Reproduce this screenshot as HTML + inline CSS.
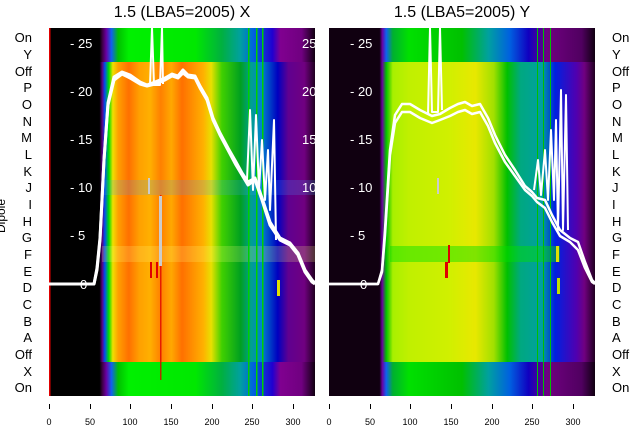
<!DOCTYPE html>
<html><head><style>
body{margin:0;background:#fff;}
svg{display:block;font-family:"Liberation Sans","DejaVu Sans",sans-serif;}
</style></head><body>
<svg width="640" height="440" viewBox="0 0 640 440">
<defs>
<linearGradient id="lo" x1="49" x2="315" gradientUnits="userSpaceOnUse">
<stop offset="0" stop-color="#000"/><stop offset="0.19" stop-color="#000"/>
<stop offset="0.2" stop-color="#3a0040"/><stop offset="0.215" stop-color="#6a00a0"/>
<stop offset="0.235" stop-color="#1060f0"/><stop offset="0.26" stop-color="#00c000"/>
<stop offset="0.3" stop-color="#00f000"/><stop offset="0.55" stop-color="#00e800"/>
<stop offset="0.65" stop-color="#00b040"/><stop offset="0.72" stop-color="#00a0a0"/>
<stop offset="0.77" stop-color="#0060e0"/><stop offset="0.84" stop-color="#2000d0"/>
<stop offset="0.87" stop-color="#800090"/><stop offset="0.95" stop-color="#700080"/>
<stop offset="1" stop-color="#100010"/></linearGradient>
<linearGradient id="lm" x1="49" x2="315" gradientUnits="userSpaceOnUse">
<stop offset="0" stop-color="#000"/><stop offset="0.19" stop-color="#000"/>
<stop offset="0.2" stop-color="#5a0080"/><stop offset="0.21" stop-color="#0050f0"/>
<stop offset="0.225" stop-color="#00e000"/><stop offset="0.24" stop-color="#f0e000"/>
<stop offset="0.26" stop-color="#ffa000"/><stop offset="0.3" stop-color="#ff7000"/>
<stop offset="0.34" stop-color="#ffa000"/><stop offset="0.38" stop-color="#ffb000"/>
<stop offset="0.42" stop-color="#ff8000"/><stop offset="0.46" stop-color="#ffa800"/>
<stop offset="0.5" stop-color="#ff7000"/><stop offset="0.54" stop-color="#ff9000"/>
<stop offset="0.58" stop-color="#ffb000"/><stop offset="0.61" stop-color="#e8e000"/>
<stop offset="0.65" stop-color="#40d000"/><stop offset="0.72" stop-color="#00a020"/>
<stop offset="0.76" stop-color="#00a090"/><stop offset="0.8" stop-color="#0080d0"/>
<stop offset="0.86" stop-color="#0000c0"/><stop offset="0.9" stop-color="#600090"/>
<stop offset="0.96" stop-color="#700080"/><stop offset="1" stop-color="#200020"/></linearGradient>
<linearGradient id="ro" x1="329" x2="595" gradientUnits="userSpaceOnUse">
<stop offset="0" stop-color="#100010"/><stop offset="0.19" stop-color="#100010"/>
<stop offset="0.2" stop-color="#6a00a0"/><stop offset="0.215" stop-color="#1060f0"/>
<stop offset="0.24" stop-color="#00b030"/><stop offset="0.3" stop-color="#00e000"/>
<stop offset="0.5" stop-color="#00c000"/><stop offset="0.6" stop-color="#00a0a0"/>
<stop offset="0.68" stop-color="#0060e0"/><stop offset="0.75" stop-color="#1000c0"/>
<stop offset="0.82" stop-color="#700080"/><stop offset="0.95" stop-color="#500060"/>
<stop offset="1" stop-color="#100010"/></linearGradient>
<linearGradient id="rm" x1="329" x2="595" gradientUnits="userSpaceOnUse">
<stop offset="0" stop-color="#100010"/><stop offset="0.19" stop-color="#100010"/>
<stop offset="0.2" stop-color="#6a00a0"/><stop offset="0.215" stop-color="#00c000"/>
<stop offset="0.24" stop-color="#a8f000"/><stop offset="0.3" stop-color="#c0f000"/>
<stop offset="0.45" stop-color="#d0f000"/><stop offset="0.55" stop-color="#e8e800"/>
<stop offset="0.62" stop-color="#a0e000"/><stop offset="0.67" stop-color="#00c000"/>
<stop offset="0.72" stop-color="#00a880"/><stop offset="0.8" stop-color="#00a0a0"/>
<stop offset="0.85" stop-color="#0020e0"/><stop offset="0.93" stop-color="#5000b0"/>
<stop offset="0.96" stop-color="#700080"/><stop offset="1" stop-color="#200020"/></linearGradient>
<clipPath id="cl"><rect x="49" y="28" width="266" height="368"/></clipPath>
<clipPath id="cr"><rect x="329" y="28" width="266" height="368"/></clipPath>
</defs>

<text x="182" y="17" font-size="16" text-anchor="middle">1.5 (LBA5=2005) X</text>
<text x="462" y="17" font-size="16" text-anchor="middle">1.5 (LBA5=2005) Y</text>

<!-- left panel -->
<g clip-path="url(#cl)">
<rect x="49" y="28" width="266" height="368" fill="url(#lo)"/>
<rect x="49" y="62" width="266" height="300" fill="url(#lm)"/>
<rect x="102" y="180" width="213" height="15" fill="#40a0ff" opacity="0.2"/>
<rect x="102" y="246" width="213" height="16" fill="#ffff80" opacity="0.2"/>
<rect x="49" y="28" width="1.5" height="368" fill="#e00000"/>
<rect x="160" y="195" width="1.5" height="185" fill="#e00000" opacity="0.8"/>
<rect x="159" y="196" width="3" height="70" fill="#ccc"/>
<rect x="150" y="262" width="2" height="16" fill="#e00000"/>
<rect x="156" y="262" width="2" height="16" fill="#e00000"/>
<rect x="148" y="178" width="2" height="16" fill="#ccc"/>
<rect x="248" y="28" width="1.5" height="368" fill="#00d000"/>
<rect x="256" y="28" width="1.5" height="368" fill="#00d000"/>
<rect x="262" y="28" width="1.5" height="368" fill="#00d000"/>
<rect x="277" y="280" width="3" height="16" fill="#e0e000"/>
<text fill="#fff" font-size="13">
<tspan x="70" y="48">- 25</tspan><tspan x="70" y="96">- 20</tspan><tspan x="70" y="144">- 15</tspan><tspan x="70" y="192">- 10</tspan><tspan x="70" y="240">- 5</tspan><tspan x="80" y="289">0</tspan>
<tspan x="302" y="48">25</tspan><tspan x="302" y="96">20</tspan><tspan x="302" y="144">15</tspan><tspan x="302" y="192">10</tspan>
</text>
<g fill="none" stroke="#fff" stroke-width="3" stroke-linejoin="round">
<polyline points="49,284 94,284 97,270 100,240 104,160 108,105 114,80 122,74 130,78 140,84 147,86 155,84 160,82 165,80 172,76 178,78 183,73 188,77 195,78 200,88 207,100 213,120 220,135 228,150 236,165 242,175 248,185 255,180 262,200 270,225 280,240 290,245 298,255 305,272 312,282 315,284"/>
<polyline points="49,284 94,284 97,268 100,238 104,160 108,103 114,77 122,72 130,75 140,82 147,85 155,82 160,80 165,78 172,74 178,76 183,70 188,75 195,76 200,86 207,98 213,118 220,133 228,148 236,162 242,173 248,182 255,178 262,198 270,222 280,238 290,243 298,253 305,270 312,280 315,283"/>
<polyline stroke-width="2" points="150,85 152,28 154,85 160,85 162,28 163,84"/>
<polyline stroke-width="2" points="247,180 250,110 253,190 256,115 259,190 262,140 265,200 268,150 270,210 274,120 276,240"/>
</g>
</g>

<!-- right panel -->
<g clip-path="url(#cr)">
<rect x="329" y="28" width="266" height="368" fill="url(#ro)"/>
<rect x="329" y="62" width="266" height="300" fill="url(#rm)"/>
<rect x="390" y="246" width="170" height="16" fill="#00e000" opacity="0.45"/>
<rect x="448" y="245" width="2" height="18" fill="#e00000"/>
<rect x="445" y="262" width="3" height="16" fill="#e00000"/>
<rect x="437" y="178" width="2" height="16" fill="#ccc"/>
<rect x="537" y="28" width="1" height="368" fill="#00c000"/>
<rect x="543" y="28" width="1" height="368" fill="#00c000"/>
<rect x="550" y="28" width="1" height="368" fill="#00c000"/>
<rect x="556" y="246" width="3" height="16" fill="#e0e000"/>
<rect x="557" y="278" width="3" height="16" fill="#c0e000"/>
<text fill="#fff" font-size="13">
<tspan x="350" y="48">- 25</tspan><tspan x="350" y="96">- 20</tspan><tspan x="350" y="144">- 15</tspan><tspan x="350" y="192">- 10</tspan><tspan x="350" y="240">- 5</tspan><tspan x="360" y="289">0</tspan>
</text>
<g fill="none" stroke="#fff" stroke-width="2.5" stroke-linejoin="round">
<polyline points="329,284 378,284 382,270 385,230 390,150 395,115 402,104 410,104 420,110 432,116 440,114 450,108 458,104 465,102 472,106 480,104 488,118 495,135 505,155 515,170 525,186 532,192 537,198 545,200 552,215 560,230 570,238 578,242 585,262 592,280 595,283"/>
<polyline points="329,284 378,284 382,272 385,235 390,155 395,123 402,112 410,112 420,118 432,123 440,120 450,116 458,112 465,110 472,114 480,112 488,126 495,143 505,162 515,176 525,190 532,196 537,202 545,208 552,222 560,236 570,242 578,250 585,268 592,282 595,284"/>
<polyline stroke-width="2" points="428,115 430,28 432,112 438,112 440,28 442,110"/>
<polyline stroke-width="2" points="534,190 538,160 541,195 545,150 548,200 551,130 554,200 556,120 558,230 561,90 563,230 566,95 568,230"/>
</g>
</g>

<!-- category labels -->
<g font-size="13" fill="#000">
<g text-anchor="end">
<text x="32" y="42">On</text><text x="32" y="59">Y</text><text x="32" y="76">Off</text><text x="32" y="92">P</text><text x="32" y="109">O</text><text x="32" y="126">N</text><text x="32" y="142">M</text><text x="32" y="159">L</text><text x="32" y="176">K</text><text x="32" y="192">J</text><text x="32" y="209">I</text><text x="32" y="226">H</text><text x="32" y="242">G</text><text x="32" y="259">F</text><text x="32" y="276">E</text><text x="32" y="292">D</text><text x="32" y="309">C</text><text x="32" y="326">B</text><text x="32" y="342">A</text><text x="32" y="359">Off</text><text x="32" y="376">X</text><text x="32" y="392">On</text>
</g>
<g text-anchor="start">
<text x="612" y="42">On</text><text x="612" y="59">Y</text><text x="612" y="76">Off</text><text x="612" y="92">P</text><text x="612" y="109">O</text><text x="612" y="126">N</text><text x="612" y="142">M</text><text x="612" y="159">L</text><text x="612" y="176">K</text><text x="612" y="192">J</text><text x="612" y="209">I</text><text x="612" y="226">H</text><text x="612" y="242">G</text><text x="612" y="259">F</text><text x="612" y="276">E</text><text x="612" y="292">D</text><text x="612" y="309">C</text><text x="612" y="326">B</text><text x="612" y="342">A</text><text x="612" y="359">Off</text><text x="612" y="376">X</text><text x="612" y="392">On</text>
</g>
<text transform="translate(5,216) rotate(-90)" text-anchor="middle" font-size="12">Dipole</text>
</g>

<!-- x ticks -->
<g stroke="#000" stroke-width="1">
<path d="M49.5,404v5M90.5,404v5M130.5,404v5M171.5,404v5M212.5,404v5M252.5,404v5M293.5,404v5"/>
<path d="M329.5,404v5M370.5,404v5M410.5,404v5M451.5,404v5M492.5,404v5M532.5,404v5M573.5,404v5"/>
</g>
<g font-size="9" text-anchor="middle" fill="#000">
<text x="49" y="425">0</text><text x="90" y="425">50</text><text x="130" y="425">100</text><text x="171" y="425">150</text><text x="212" y="425">200</text><text x="252" y="425">250</text><text x="293" y="425">300</text>
<text x="329" y="425">0</text><text x="370" y="425">50</text><text x="410" y="425">100</text><text x="451" y="425">150</text><text x="492" y="425">200</text><text x="532" y="425">250</text><text x="573" y="425">300</text>
</g>
</svg>
</body></html>
